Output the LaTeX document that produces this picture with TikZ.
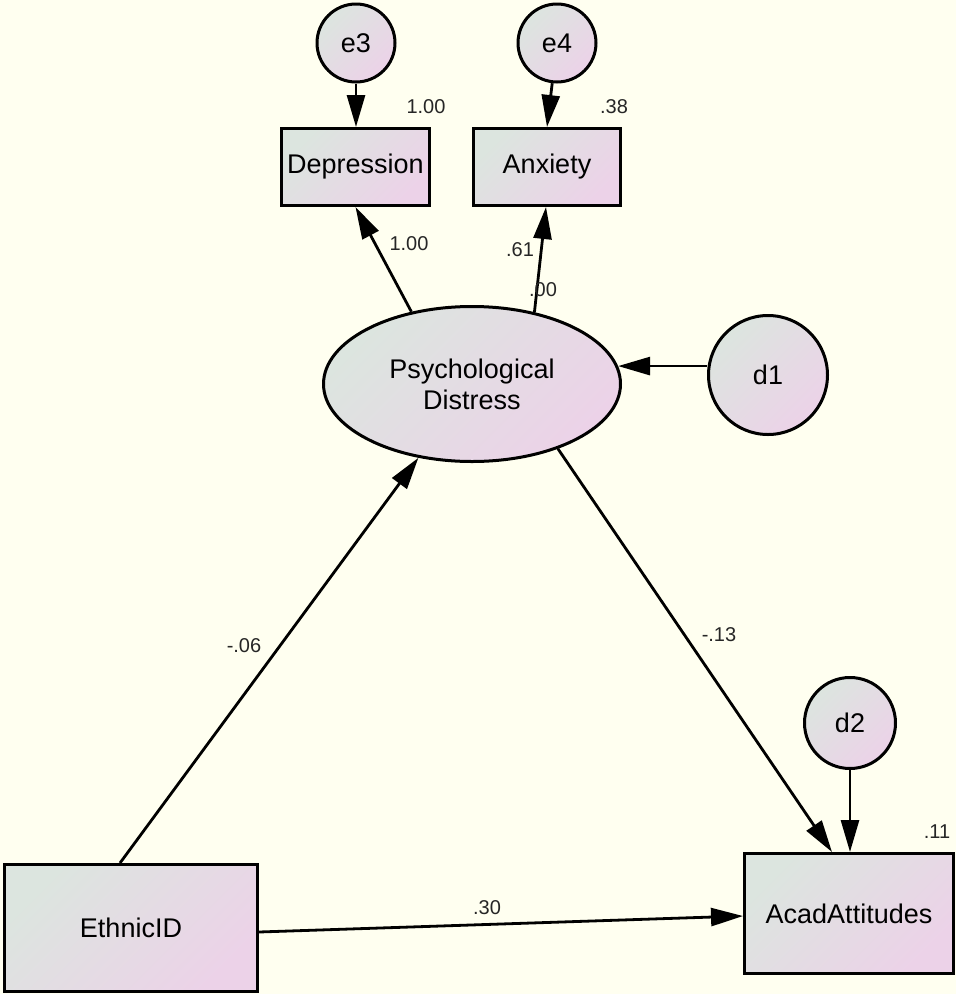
\documentclass[tikz,border=0pt]{standalone}
\usepackage{fontspec}
\setmainfont{Liberation Sans}
\usetikzlibrary{arrows.meta,shapes.geometric}
\definecolor{bgcream}{RGB}{255,255,240}
\definecolor{shadeA}{RGB}{220,229,223}
\definecolor{shadeB}{RGB}{236,210,232}
\tikzset{>={Triangle[length=32pt,width=18pt]}}
\tikzset{
  var/.style={draw, line width=3pt, left color=shadeA, right color=shadeB,
    shading angle=45, font=\fontsize{27}{31}\selectfont, inner sep=0pt},
  obs/.style={var, rectangle},
  lat/.style={var, ellipse, align=center},
  err/.style={var, circle},
  num/.style={font=\fontsize{20}{22}\selectfont, text=black!85, inner sep=0pt},
  reg/.style={->, line width=2.8pt},
}

\begin{document}
\begin{tikzpicture}[x=1pt,y=-1pt]
\fill[bgcream] (0,0) rectangle (956,994);
\useasboundingbox (0,0) rectangle (956,994);
% variables
\node[obs, minimum width=148pt, minimum height=77pt] (dep) at (355.5,167) {Depression};
\node[obs, minimum width=147pt, minimum height=77pt] (anx) at (547,167) {Anxiety};
\node[lat, minimum width=297pt, minimum height=155pt] (psy) at (472,384) {Psychological\\Distress};
\node[obs, minimum width=253pt, minimum height=127pt] (eth) at (131,928) {EthnicID};
\node[obs, minimum width=209pt, minimum height=120pt] (acad) at (849,913.5) {AcadAttitudes};
% errors
\node[err, minimum size=78pt] (e3) at (356,43) {e3};
\node[err, minimum size=78pt] (e4) at (557,43) {e4};
\node[err, minimum size=119pt] (d1) at (768,375) {d1};
\node[err, minimum size=91pt] (d2) at (850,723) {d2};
% paths
\draw[reg] (e3) -- (e3 |- dep.north);
\draw[reg] (e4) -- (anx.north);
\draw[reg] (psy.130) -- (dep.south);
\draw[reg] (psy.49) -- ([xshift=-1pt]anx.south);
\draw[reg] (d1.west |- psy.7) -- (psy.7);
\draw[reg] ([xshift=-11pt]eth.north) -- (psy.234);
\draw[reg] (psy.-37) -- ([xshift=-17pt]acad.north);
\draw[reg] (d2) -- (d2 |- acad.north);
\draw[reg] ([yshift=-4pt]eth.east) -- ([yshift=-2.5pt]acad.west);
% estimates
\node[num] (rdep) at (426,107) {1.00};
\node[num] (ranx) at (614,107) {.38};
\node[num] (racad) at (937,832) {.11};
\node[num] (wdep) at (409,244) {1.00};
\node[num] (wanx) at (520,250) {.61};
\node[num] (ianx) at (543,290) {.00};
\node[num] (weth) at (244,646) {-.06};
\node[num] (wpsy) at (719,635) {-.13};
\node[num] (wacad) at (487,908) {.30};
\end{tikzpicture}
\end{document}
